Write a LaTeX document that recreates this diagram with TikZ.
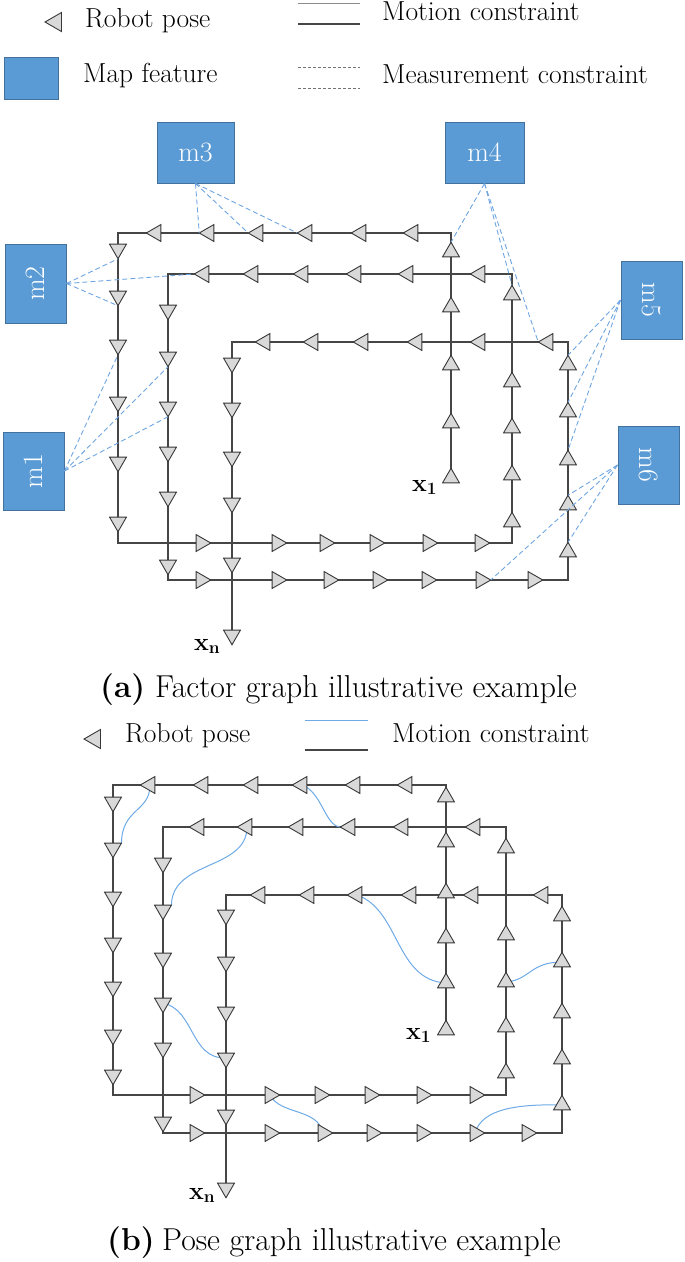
\documentclass[tikz,border=0pt]{standalone}
\usepackage{graphicx}
\usetikzlibrary{shapes.geometric}
\definecolor{boxfill}{RGB}{91,155,213}
\definecolor{boxdraw}{RGB}{65,113,156}
\definecolor{meas}{RGB}{110,165,225}
\definecolor{curvec}{RGB}{110,170,230}
\definecolor{edgec}{RGB}{70,70,70}
\definecolor{trifill}{RGB}{217,217,217}
\definecolor{tridraw}{RGB}{55,55,55}
\pgfdeclarelayer{bg}
\pgfsetlayers{bg,main}
\begin{document}
\begin{tikzpicture}[x=1pt,y=-1pt,
  tri/.style={regular polygon, regular polygon sides=3, draw=tridraw, fill=trifill, line width=0.9pt, inner sep=0pt, outer sep=0pt, minimum size=19.5pt},
  tleft/.style={tri, regular polygon rotate=90},
  tright/.style={tri, regular polygon rotate=-90},
  tup/.style={tri},
  tdown/.style={tri, regular polygon rotate=180},
  box/.style={draw=boxdraw, fill=boxfill, line width=1pt, text=white, font=\fontsize{28}{32}\selectfont, inner sep=0pt},
  edgeline/.style={draw=edgec, line width=1.1pt},
  measline/.style={draw=meas, dash pattern=on 5pt off 3pt, line width=0.9pt},
  curve/.style={draw=curvec, line width=1pt},
  lbl/.style={font=\fontsize{27.5}{32}\selectfont, anchor=base west, inner sep=0pt},
  captxt/.style={font=\fontsize{31.7}{36}\selectfont, anchor=base west, inner sep=0pt},
  xlab/.style={font=\fontsize{25}{29}\selectfont, anchor=base west, inner sep=0pt}
]
\useasboundingbox (0,0) rectangle (685,1262);

% ---------- legend (a)
\node[tleft, minimum size=22pt] (lgtri) at (56,22) {};
\node[lbl] (lgrp) at (85,27) {Robot pose};
\node[box, minimum width=54pt, minimum height=42pt] (lgbox) at (31,78) {};
\node[lbl] (lgmf) at (83,82) {Map feature};
\draw[draw=black!45, line width=1pt] (298,3) -- (360,3);
\draw[edgeline] (298,24) -- (360,24);
\node[lbl] (lgmc) at (382,20) {Motion constraint};
\draw[draw=black!55, dash pattern=on 3pt off 2pt, line width=0.8pt] (298,67) -- (360,67);
\draw[draw=black!55, dash pattern=on 3pt off 2pt, line width=0.8pt] (298,88) -- (360,88);
\node[lbl] (lgms) at (382,83) {Measurement constraint};

% ---------- map features
\node[box, minimum width=77pt, minimum height=61pt] (m3) at (195.5,152.5) {m3};
\node[box, minimum width=79pt, minimum height=61pt] (m4) at (484.5,152.5) {m4};
\node[box, minimum width=61pt, minimum height=79pt] (m2) at (35.5,283.5) {\rotatebox{90}{m2}};
\node[box, minimum width=61pt, minimum height=78pt] (m5) at (651.5,300) {\rotatebox{-90}{m5}};
\node[box, minimum width=61pt, minimum height=78pt] (m1) at (33.5,471) {\rotatebox{90}{m1}};
\node[box, minimum width=61pt, minimum height=78pt] (m6) at (648.5,465) {\rotatebox{-90}{m6}};

% ---------- panel (a) poses
\foreach \y [count=\i] in {252,307,365,423,478} \node[tup] (aA\i) at (451,\y) {};
\foreach \x [count=\i] in {156,209,258,307,361,413} \node[tleft] (aB\i) at (\x,233) {};
\foreach \y [count=\i] in {249,296,345,402,462,522} \node[tdown] (aC\i) at (118,\y) {};
\foreach \x [count=\i] in {201,277,325,375,428,480} \node[tright] (aD\i) at (\x,543) {};
\foreach \y [count=\i] in {295,382,428,475,522} \node[tup] (aE\i) at (512,\y) {};
\foreach \x [count=\i] in {204,253,303,356,408,480} \node[tleft] (aF\i) at (\x,274) {};
\foreach \y [count=\i] in {310,357,407,452,497,565} \node[tdown] (aG\i) at (168,\y) {};
\foreach \x [count=\i] in {201,277,329,378,427,481,533} \node[tright] (aH\i) at (\x,580) {};
\foreach \y [count=\i] in {365,412,460,505,552} \node[tup] (aI\i) at (568,\y) {};
\foreach \x [count=\i] in {265,313,363,417,480,548} \node[tleft] (aJ\i) at (\x,342) {};
\foreach \y [count=\i] in {363,408,457,503,563,635} \node[tdown] (aK\i) at (232,\y) {};

\coordinate (ac1) at (451,233); \coordinate (ac2) at (118,233);
\coordinate (ac3) at (118,543); \coordinate (ac4) at (512,543);
\coordinate (ac5) at (512,274); \coordinate (ac6) at (168,274);
\coordinate (ac7) at (168,580); \coordinate (ac8) at (568,580);
\coordinate (ac9) at (568,342); \coordinate (ac10) at (232,342);
\begin{pgfonlayer}{bg}
\draw[edgeline] (aA5.center) -- (ac1) -- (ac2) -- (ac3) -- (ac4) -- (ac5) -- (ac6) -- (ac7) -- (ac8) -- (ac9) -- (ac10) -- (aK6.center);
\end{pgfonlayer}

\node[xlab] (ax1) at (412,491) {$\mathbf{x}_{\mathbf{1}}$};
\node[xlab] (axn) at (194,650) {$\mathbf{x}_{\mathbf{n}}$};

% measurement constraints
\foreach \t in {aB2,aB3,aB4} \draw[measline] (m3.south) -- (\t.corner 1);
\foreach \t in {aA1,aE1,aJ6} \draw[measline] (m4.south) -- (\t.corner 1);
\foreach \t in {aC1,aF1,aC2} \draw[measline] (m2.east) -- (\t.corner 1);
\foreach \t in {aC3,aG2,aG3} \draw[measline] (m1.east) -- (\t.corner 1);
\foreach \t in {aI1,aI2,aI3} \draw[measline] (m5.west) -- (\t.corner 1);
\foreach \t in {aI4,aI5,aH6} \draw[measline] (m6.west) -- (\t.corner 1);

\node[captxt] (capa1) at (100,697) {\bfseries (a)};
\node[captxt] (capa2) at (155,697) {Factor graph illustrative example};

% ---------- legend (b)
\node[tleft, minimum size=22pt] (lbtri) at (95,739) {};
\node[lbl] (lbrp) at (125,742) {Robot pose};
\draw[curve] (305,720) -- (368,720);
\draw[edgeline] (305,750) -- (368,750);
\node[lbl] (lbmc) at (392,742) {Motion constraint};

% ---------- panel (b) poses
\foreach \y [count=\i] in {797,842,893,938,983,1030} \node[tup] (bA\i) at (446,\y) {};
\foreach \x [count=\i] in {150,203,253,302,355,407} \node[tleft] (bB\i) at (\x,785) {};
\foreach \y [count=\i] in {802,848,897,943,987,1035,1075} \node[tdown] (bC\i) at (113,\y) {};
\foreach \x [count=\i] in {195,270,320,370,422,475} \node[tright] (bD\i) at (\x,1095) {};
\foreach \y [count=\i] in {848,935,982,1027,1073} \node[tup] (bE\i) at (506,\y) {};
\foreach \x [count=\i] in {199,247,298,350,403,475} \node[tleft] (bF\i) at (\x,827) {};
\foreach \y [count=\i] in {863,910,958,1003,1048,1122} \node[tdown] (bG\i) at (163,\y) {};
\foreach \x [count=\i] in {195,270,323,372,422,475,527} \node[tright] (bH\i) at (\x,1133) {};
\foreach \y [count=\i] in {916,962,1013,1059,1105} \node[tup] (bI\i) at (562,\y) {};
\foreach \x [count=\i] in {260,309,357,411,473,543} \node[tleft] (bJ\i) at (\x,895) {};
\foreach \y [count=\i] in {915,962,1012,1058,1115,1188} \node[tdown] (bK\i) at (226,\y) {};

\coordinate (bc1) at (446,785); \coordinate (bc2) at (113,785);
\coordinate (bc3) at (113,1095); \coordinate (bc4) at (506,1095);
\coordinate (bc5) at (506,827); \coordinate (bc6) at (163,827);
\coordinate (bc7) at (163,1133); \coordinate (bc8) at (562,1133);
\coordinate (bc9) at (562,895); \coordinate (bc10) at (226,895);
\begin{pgfonlayer}{bg}
\draw[edgeline] (bA6.center) -- (bc1) -- (bc2) -- (bc3) -- (bc4) -- (bc5) -- (bc6) -- (bc7) -- (bc8) -- (bc9) -- (bc10) -- (bK6.center);
% pose-to-pose constraints
\draw[curve] (bB1.center) .. controls (150,812) and (122,808) .. (bC2.corner 2);
\draw[curve] (bB4.center) .. controls (322,792) and (325,826) .. (bF4.corner 1);
\draw[curve] (bF2.center) .. controls (247,870) and (172,860) .. (bG2.corner 2);
\draw[curve] (bJ3.center) .. controls (400,910) and (395,980) .. (bA5.center);
\draw[curve] (bE3.center) .. controls (530,980) and (530,962) .. (bI2.center);
\draw[curve] (bG4.center) .. controls (195,1010) and (190,1059) .. (bK4.center);
\draw[curve] (bD2.center) .. controls (280,1115) and (318,1108) .. (bH3.center);
\draw[curve] (bH6.center) .. controls (482,1108) and (520,1104) .. (bI5.center);
\end{pgfonlayer}

\node[xlab] (bx1) at (406,1039) {$\mathbf{x}_{\mathbf{1}}$};
\node[xlab] (bxn) at (189,1199) {$\mathbf{x}_{\mathbf{n}}$};

\node[captxt] (capb1) at (107,1250) {\bfseries (b)};
\node[captxt] (capb2) at (162,1250) {Pose graph illustrative example};
\end{tikzpicture}
\end{document}
